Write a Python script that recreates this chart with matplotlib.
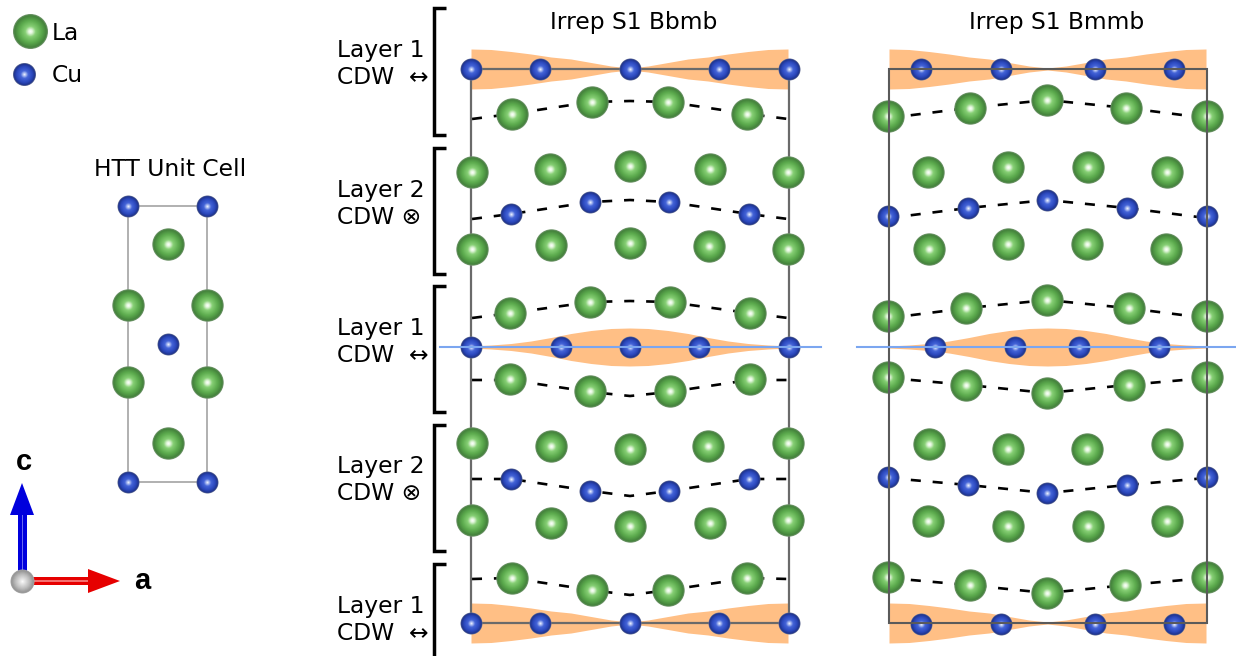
# -*- coding: utf-8 -*-
"""Crystal structure sketch: HTT unit cell and the two S1 CDW irreps."""

import numpy as np
import matplotlib
matplotlib.use('Agg')
import matplotlib.pyplot as plt
from matplotlib.colors import to_rgb
from matplotlib.patches import Polygon, Rectangle

plt.rcParams['font.family'] = ['DejaVu Sans']

# ============================================================
# Data (pixel positions)
# ============================================================
legend_la = [(30, 31)]
legend_cu = [(24, 74)]

htt_cell = (128, 207, 206, 482)
htt_la = [(168, 244), (128, 305), (207, 305), (128, 382), (207, 382), (168, 443)]
htt_cu = [(128, 206), (207, 206), (128, 482), (207, 482), (168, 344)]

# Irrep S1 Bbmb
bbmb_cell = (471, 789, 69, 623)
bbmb_la = [(512, 114), (592, 102), (668, 102), (747, 114),
           (472, 172), (550, 169), (630, 166), (710, 169), (788, 172),
           (472, 249), (551, 245), (630, 243), (709, 246), (788, 249),
           (510, 313), (590, 302), (670, 302), (750, 313),
           (510, 379), (590, 391), (670, 391), (750, 379),
           (472, 443), (551, 446), (630, 449), (708, 446), (788, 443),
           (472, 520), (551, 523), (630, 526), (710, 523), (788, 520),
           (512, 578), (592, 590), (668, 590), (747, 578)]
bbmb_cu = [(471, 69), (540, 69), (630, 69), (719, 69), (789, 69),
           (511, 214), (590, 202), (669, 202), (749, 214),
           (471, 347), (561, 347), (630, 347), (699, 347), (789, 347),
           (511, 479), (590, 491), (669, 491), (749, 479),
           (471, 623), (540, 623), (630, 623), (719, 623), (789, 623)]
bbmb_dash_x = [472, 511, 591, 630, 669, 749, 788]
bbmb_dash_y = [[119, 114, 102, 101, 102, 114, 119],
               [219, 214, 202, 200, 202, 214, 219],
               [318, 313, 302, 301, 302, 313, 318],
               [380, 380, 392, 396, 392, 380, 380],
               [479, 479, 491, 496, 491, 479, 479],
               [579, 578, 590, 595, 590, 578, 579]]

# Irrep S1 Bmmb
bmmb_cell = (889, 1207, 69, 623)
bmmb_la = [(888, 116), (970, 108), (1047, 100), (1126, 108), (1207, 116),
           (928, 172), (1008, 167), (1088, 167), (1167, 172),
           (929, 249), (1008, 244), (1087, 244), (1166, 249),
           (888, 316), (966, 308), (1047, 300), (1129, 308), (1207, 316),
           (888, 377), (966, 385), (1047, 393), (1129, 385), (1207, 377),
           (929, 444), (1008, 449), (1087, 449), (1167, 444),
           (928, 521), (1008, 526), (1088, 526), (1167, 521),
           (888, 577), (970, 585), (1047, 593), (1125, 585), (1207, 577)]
bmmb_cu = [(921, 69), (1001, 69), (1095, 69), (1174, 69),
           (888, 216), (968, 208), (1047, 200), (1127, 208), (1207, 216),
           (935, 347), (1015, 347), (1079, 347), (1159, 347),
           (888, 477), (968, 485), (1047, 493), (1127, 485), (1207, 477),
           (921, 624), (1001, 624), (1095, 624), (1174, 624)]
bmmb_dash_x = [889, 968, 1047, 1127, 1206]
bmmb_dash_y = [[118, 108, 100, 108, 118],
               [218, 208, 200, 208, 218],
               [318, 308, 300, 308, 318],
               [378, 385, 393, 385, 378],
               [478, 485, 493, 485, 478],
               [578, 585, 593, 585, 578]]

# orange band half thickness, from cell edge to cell centre
band_offset = [0, 20, 40, 60, 80, 100, 120, 140, 159]
band_edge = [20, 19.5, 17.5, 15, 12, 10, 6.5, 3, 1]
band_mid = [1, 2, 3.5, 6, 9.5, 13.5, 16.5, 18.5, 19]

layer_names = ['Layer 1', 'Layer 2', 'Layer 1', 'Layer 2', 'Layer 1']
layer_cdw = ['CDW  \u2194', 'CDW \u2297', 'CDW  \u2194', 'CDW \u2297', 'CDW  \u2194']
layer_y = [51, 190, 328, 467, 606]
bracket_y = [(8, 135), (148, 274), (286, 412), (425, 551), (564, 670)]

LA_STOPS = [(0.0, '#ffffff'), (0.12, '#e8f8e2'), (0.32, '#86cf74'),
            (0.65, '#5cab4e'), (0.93, '#44823c'), (1.0, '#6f946a')]
CU_STOPS = [(0.0, '#ffffff'), (0.12, '#bccaf6'), (0.35, '#4565d8'),
            (0.7, '#2b48bd'), (0.93, '#20348c'), (1.0, '#6a7498')]
GRAY_STOPS = [(0.0, '#ffffff'), (0.2, '#e6e6e6'), (0.6, '#bdbdbd'),
              (0.92, '#959595'), (1.0, '#a8a8a8')]

fig = plt.figure(figsize=(12.36, 6.56), dpi=100)
ax = fig.add_axes([0, 0, 1, 1])
ax.set_xlim(0, 1236)
ax.set_ylim(656, 0)
ax.axis('off')


def draw_atoms(atoms, radius, stops, z=5):
    # concentric discs give the shaded sphere look
    xs = [a[0] for a in atoms]
    ys = [a[1] for a in atoms]
    fracs = [s[0] for s in stops]
    rgb = np.array([to_rgb(s[1]) for s in stops])
    for i, f in enumerate(np.linspace(1, 0.03, 26)):
        col = [np.interp(f, fracs, rgb[:, c]) for c in range(3)]
        d_pt = 2 * radius * f * 72 / 100
        ax.scatter(xs, ys, s=d_pt ** 2, color=[col], linewidths=0, zorder=z + i * 0.01)


def draw_cell(cell, color, lw, z):
    x0, x1, y0, y1 = cell
    ax.add_patch(Rectangle((x0, y0), x1 - x0, y1 - y0, fill=False, edgecolor=color,
                           linewidth=lw, zorder=z))


def draw_bands(x0, x1, y_mid, halves):
    # mirrored from both cell edges towards the centre
    xs = np.array([x0 + o for o in band_offset[:-1]] + [(x0 + x1) / 2]
                  + [x1 - o for o in band_offset[-2::-1]])
    hs = np.array(list(halves) + list(halves[-2::-1]))
    ax.fill_between(xs, y_mid - hs, y_mid + hs, color='#ffbf85', linewidth=0, zorder=1)


def draw_dashes(xs, rows):
    for ys in rows:
        ax.plot(xs, ys, color='black', lw=1.9, dashes=(3.8, 4.5), zorder=2)


# ============================================================
# Legend and unit cell
# ============================================================
draw_atoms(legend_la, 17.5, LA_STOPS)
draw_atoms(legend_cu, 11.5, CU_STOPS)
ax.text(52, 33, 'La', fontsize=16.8, va='center', ha='left')
ax.text(52, 75, 'Cu', fontsize=16.8, va='center', ha='left')

ax.text(170, 169, 'HTT Unit Cell', fontsize=16.8, va='center', ha='center')
draw_cell(htt_cell, '#b0b0b0', 1.4, 3)
draw_atoms(htt_la, 16.2, LA_STOPS)
draw_atoms(htt_cu, 11, CU_STOPS)

# ============================================================
# Axis arrows
# ============================================================
ax.add_patch(Rectangle((18, 515), 8.5, 66, facecolor='#0000dd', edgecolor='none', zorder=3))
ax.add_patch(Rectangle((21.5, 515), 1.5, 66, facecolor='#6a6af2', edgecolor='none', zorder=3.1))
ax.add_patch(Polygon([(22, 483), (34, 515), (10, 515)], facecolor='#0000dd', edgecolor='none', zorder=3))
ax.add_patch(Rectangle((22, 577), 66, 8, facecolor='#e60000', edgecolor='none', zorder=3))
ax.add_patch(Rectangle((22, 580.2), 66, 1.5, facecolor='#f56f6f', edgecolor='none', zorder=3.1))
ax.add_patch(Polygon([(120, 581), (88, 569), (88, 593)], facecolor='#e60000', edgecolor='none', zorder=3))
draw_atoms([(22, 581)], 12, GRAY_STOPS)
ax.text(24, 462, 'c', fontsize=21, fontweight='bold', family='Liberation Sans', ha='center', va='center')
ax.text(142, 581, 'a', fontsize=21, fontweight='bold', family='Liberation Sans', ha='center', va='center')

# ============================================================
# Layer labels and brackets
# ============================================================
for name, cdw, y in zip(layer_names, layer_cdw, layer_y):
    ax.text(337, y, name, fontsize=16.8, va='center', ha='left')
    ax.text(337, y + 27, cdw, fontsize=16.8, va='center', ha='left')

for y0, y1 in bracket_y:
    ax.plot([446, 434, 434, 446], [y0, y0, y1, y1], color='black', lw=2.5,
            solid_joinstyle='miter', solid_capstyle='butt', zorder=2)

# ============================================================
# Irrep S1 Bbmb
# ============================================================
ax.text(634, 23, 'Irrep S1 Bbmb', fontsize=16.8, va='center', ha='center')
draw_bands(471, 788, 69, band_edge)
draw_bands(471, 788, 347, band_mid)
draw_bands(471, 788, 623, band_edge)
draw_cell(bbmb_cell, '#6a6a6a', 1.6, 3)
draw_dashes(bbmb_dash_x, bbmb_dash_y)
draw_atoms(bbmb_la, 16.2, LA_STOPS)
draw_atoms(bbmb_cu, 11, CU_STOPS)
ax.plot([440, 821], [346.5, 346.5], color='#7ba6f0', lw=1.5, zorder=7)

# ============================================================
# Irrep S1 Bmmb
# ============================================================
ax.text(1057, 23, 'Irrep S1 Bmmb', fontsize=16.8, va='center', ha='center')
draw_bands(889, 1206, 69, band_edge)
draw_bands(889, 1206, 347, band_mid)
draw_bands(889, 1206, 623, band_edge)
draw_dashes(bmmb_dash_x, bmmb_dash_y)
draw_atoms(bmmb_la, 16.2, LA_STOPS)
draw_atoms(bmmb_cu, 11, CU_STOPS)
draw_cell(bmmb_cell, '#5a5a5a', 1.5, 6)
ax.plot([857, 1236], [346.5, 346.5], color='#7ba6f0', lw=1.5, zorder=7)

fig.savefig('out.png', dpi=100)
plt.close('all')
